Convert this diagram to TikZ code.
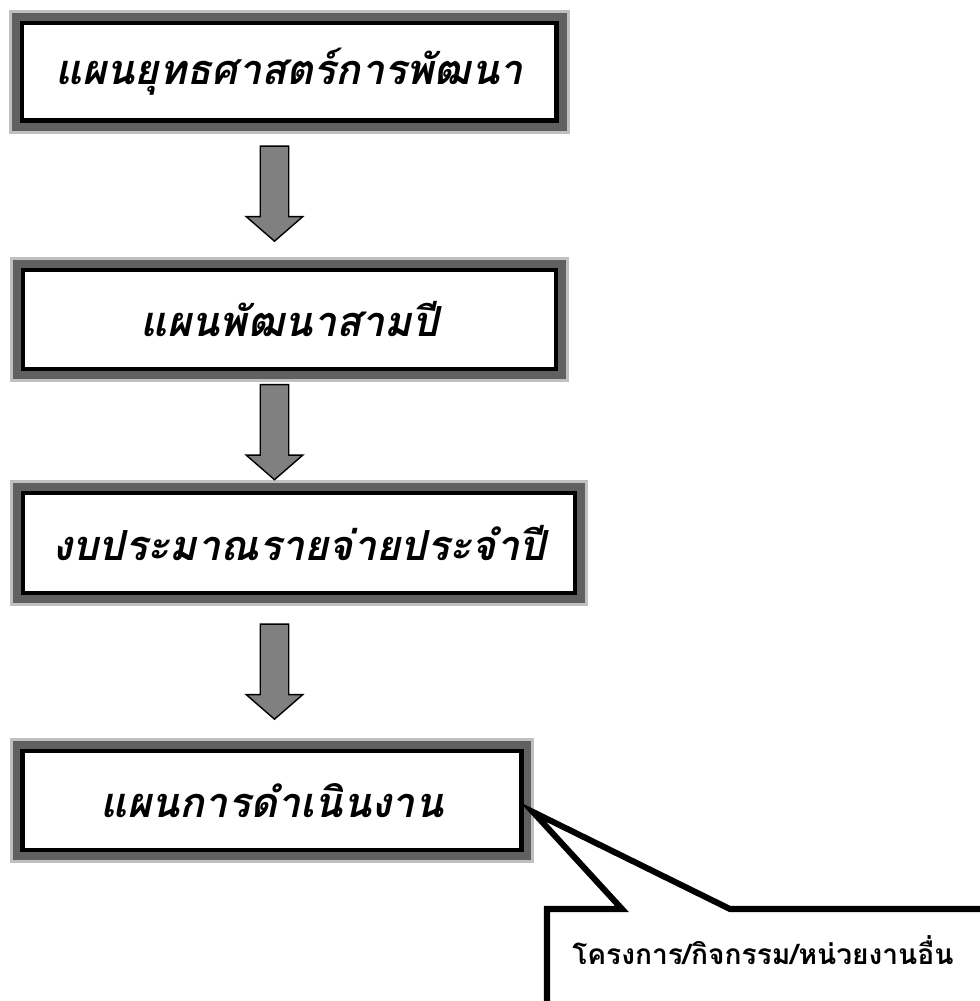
\documentclass[tikz,border=0pt]{standalone}
\usepackage{fontspec}
\newfontfamily\thaifont[Script=Thai]{Loma}
\usetikzlibrary{shapes.arrows}
\definecolor{framelight}{HTML}{C0C0C0}
\definecolor{framedark}{HTML}{606060}
\definecolor{arrowgray}{HTML}{808080}

\begin{document}
\begin{tikzpicture}[x=0.025cm, y=-0.025cm,
    planbox/.style={draw=black, line width=3.2pt, fill=white, inner sep=0pt,
        preaction={draw=framelight, line width=0.65cm},
        preaction={draw=framedark, line width=0.5cm},
        font=\thaifont\bfseries\itshape\fontsize{29.5}{36}\selectfont},
    downarrow/.style={single arrow, draw=black, line width=1pt, fill=arrowgray,
        rotate=-90, inner xsep=0pt, inner ysep=0.3375cm, minimum height=2.375cm,
        minimum width=1.375cm, single arrow head extend=0.35cm, single arrow tip angle=98},
    notebox/.style={draw=black, line width=4.3pt, fill=white, miter limit=20}]
    \clip (0,0) rectangle (980,1001);

    \node[planbox, minimum width=13.3625cm, minimum height=2.4375cm] (strategy)  at (289.25,71.75) {แผนยุทธศาสตร์การพัฒนา};
    \node[planbox, minimum width=13.325cm,  minimum height=2.475cm]  (threeyear) at (289.5,319.5)  {แผนพัฒนาสามปี};
    \node[planbox, minimum width=13.8cm,    minimum height=2.5cm]    (budget)    at (299,543)      {งบประมาณรายจ่ายประจำปี};
    \node[planbox, minimum width=12.4625cm, minimum height=2.475cm]  (operation) at (272,800.5)    {แผนการดำเนินงาน};

    \node[downarrow] (arr1) at (274.5,187.5) {};
    \node[downarrow] (arr2) at (274.5,426)   {};
    \node[downarrow] (arr3) at (274.5,665.5) {};

    % callout pointing at the last box
    \coordinate (tip) at (533,812);
    \draw[notebox] (547,1030) -- (547,909) -- (622,909) -- (tip) -- (730,909)
        -- (1010,909) -- (1010,1030) -- cycle;
    \node[anchor=base west, inner sep=0pt, font=\thaifont\bfseries\fontsize{20}{24}\selectfont] (note) at (572,964) {โครงการ/กิจกรรม/หน่วยงานอื่น};
\end{tikzpicture}
\end{document}
